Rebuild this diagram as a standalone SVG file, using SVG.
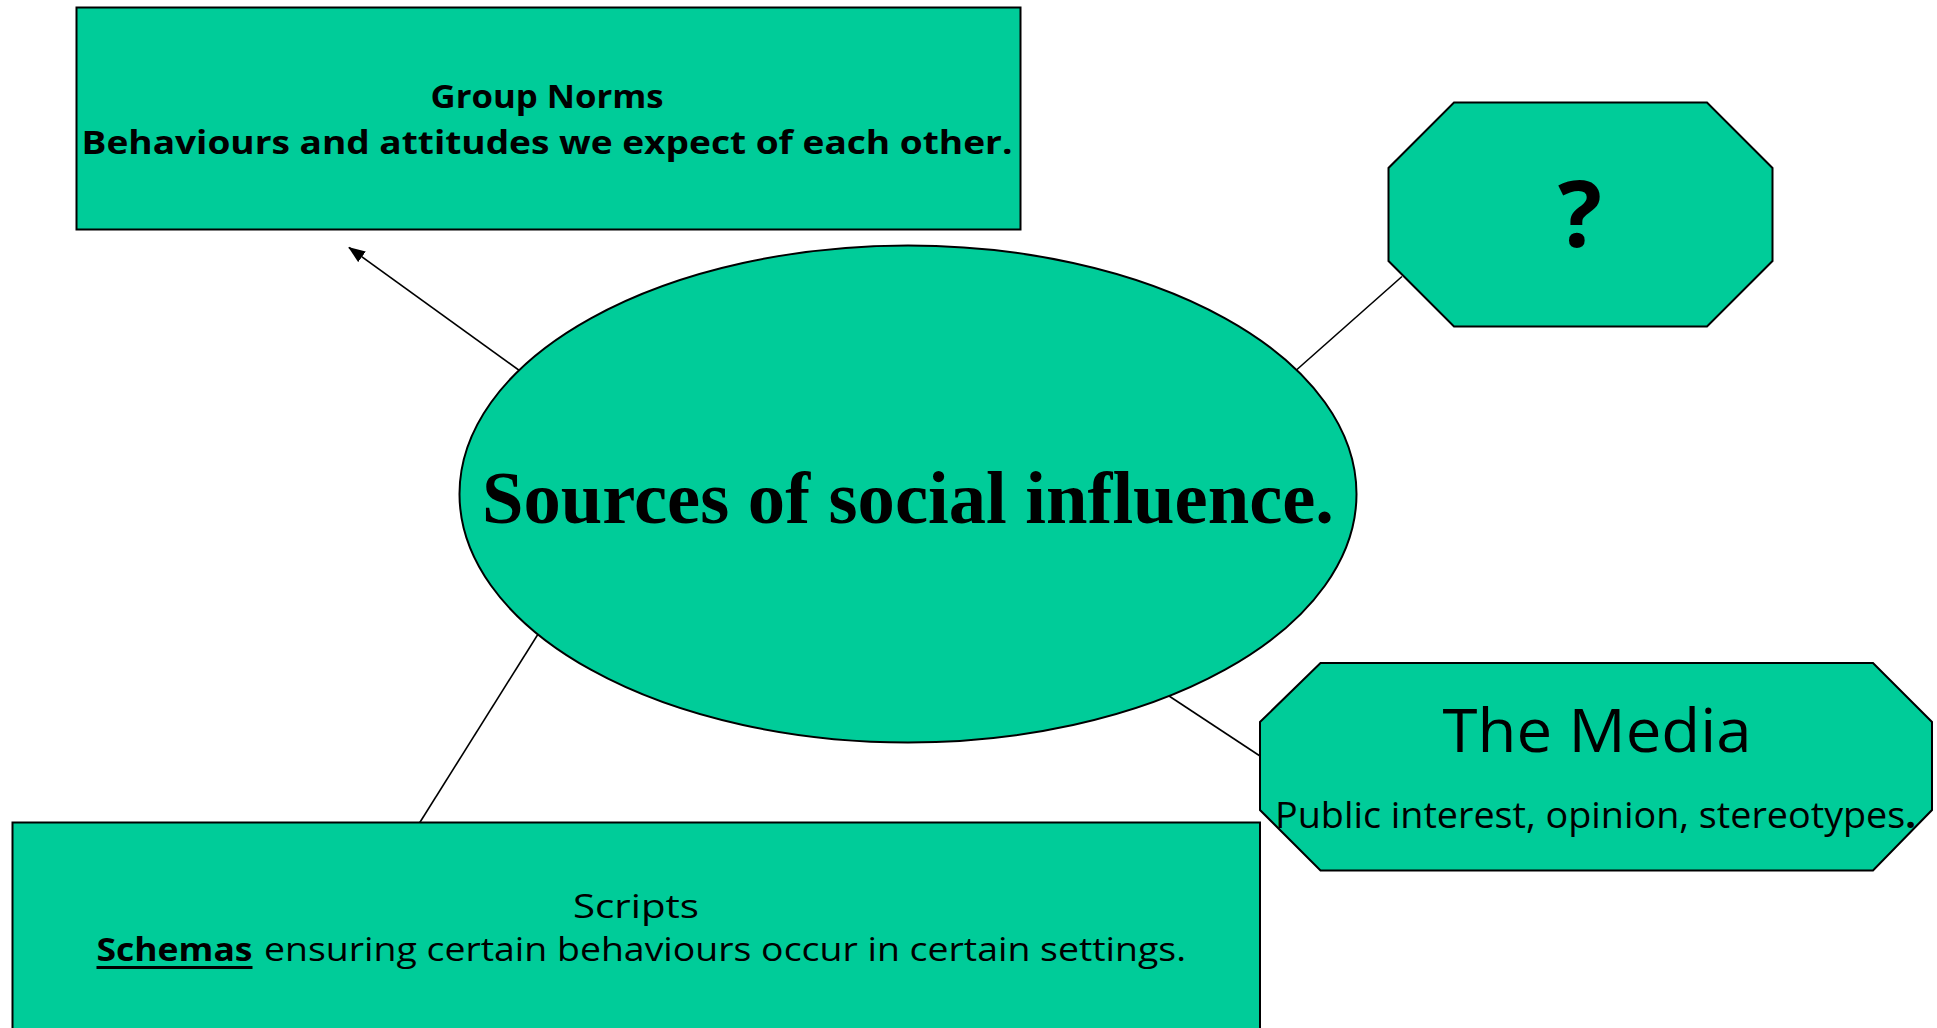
<svg xmlns="http://www.w3.org/2000/svg" width="1937" height="1028" viewBox="0 0 1937 1028">
  <style>
    .shape { fill: #00CC99; stroke: #000; stroke-width: 2; }
    .link { stroke: #000; stroke-width: 1.6; fill: none; }
    .hand { font-family: "Comic Sans MS", "Open Sans", "DejaVu Sans", sans-serif; fill: #000; }
    .title { font-family: "Liberation Serif", "Times New Roman", serif; font-weight: bold; fill: #000; }
  </style>
  <defs>
    <marker id="arrowBig" viewBox="0 0 17 13" refX="16" refY="6.5" markerWidth="17" markerHeight="13" markerUnits="userSpaceOnUse" orient="auto">
      <path d="M0,0 L17,6.5 L0,13 Z" fill="#000"/>
    </marker>
  </defs>

  <rect width="1937" height="1028" fill="#fff"/>

  <!-- connectors -->
  <g id="connectors">
    <line class="link" x1="523.5" y1="373.5" x2="349" y2="247.5" marker-end="url(#arrowBig)"/>
    <line class="link" x1="1293" y1="373" x2="1402" y2="276.5"/>
    <line class="link" x1="1166" y1="694" x2="1260" y2="756"/>
    <line class="link" x1="540" y1="631" x2="419.5" y2="823"/>
  </g>

  <!-- Group Norms -->
  <g id="group-norms">
    <rect class="shape" x="76.5" y="7.5" width="944" height="222"/>
    <text class="hand" x="547" y="107.5" font-size="33" font-weight="bold" text-anchor="middle" textLength="233" lengthAdjust="spacingAndGlyphs">Group Norms</text>
    <text class="hand" x="81.5" y="153.5" font-size="33" font-weight="bold" textLength="931" lengthAdjust="spacingAndGlyphs">Behaviours and attitudes we expect of each other.</text>
  </g>

  <!-- central ellipse -->
  <g id="sources">
    <ellipse class="shape" cx="908" cy="494" rx="448.5" ry="248.5"/>
    <text class="title" x="908" y="523" font-size="75" text-anchor="middle" textLength="852" lengthAdjust="spacingAndGlyphs">Sources of social influence.</text>
  </g>

  <!-- unknown source -->
  <g id="unknown">
    <polygon class="shape" points="1454,102.5 1707,102.5 1772.5,168 1772.5,261 1707,326.5 1454,326.5 1388.5,261 1388.5,168"/>
    <text class="hand" x="1580" y="247" font-size="92" font-weight="bold" text-anchor="middle">?</text>
  </g>

  <!-- The Media -->
  <g id="media">
    <polygon class="shape" points="1320.5,663 1873,663 1932,722 1932,810 1873,870.5 1320.5,870.5 1260,810 1260,722"/>
    <text class="hand" x="1597" y="752" font-size="60" text-anchor="middle" textLength="309" lengthAdjust="spacingAndGlyphs">The Media</text>
    <text class="hand" x="1275" y="828" font-size="37" textLength="641" lengthAdjust="spacingAndGlyphs">Public interest, opinion, stereotypes<tspan font-weight="bold">.</tspan></text>
  </g>

  <!-- Scripts -->
  <g id="scripts">
    <rect class="shape" x="12.5" y="822.5" width="1247.5" height="220"/>
    <text class="hand" x="636" y="918" font-size="33" text-anchor="middle" textLength="126" lengthAdjust="spacingAndGlyphs">Scripts</text>
    <text class="hand" x="96.5" y="961" font-size="33" font-weight="bold" textLength="156" lengthAdjust="spacingAndGlyphs">Schemas</text>
    <rect x="96.5" y="966" width="156" height="3" fill="#000"/>
    <text class="hand" x="264" y="961" font-size="33" textLength="922" lengthAdjust="spacingAndGlyphs">ensuring certain behaviours occur in certain settings.</text>
  </g>
</svg>
